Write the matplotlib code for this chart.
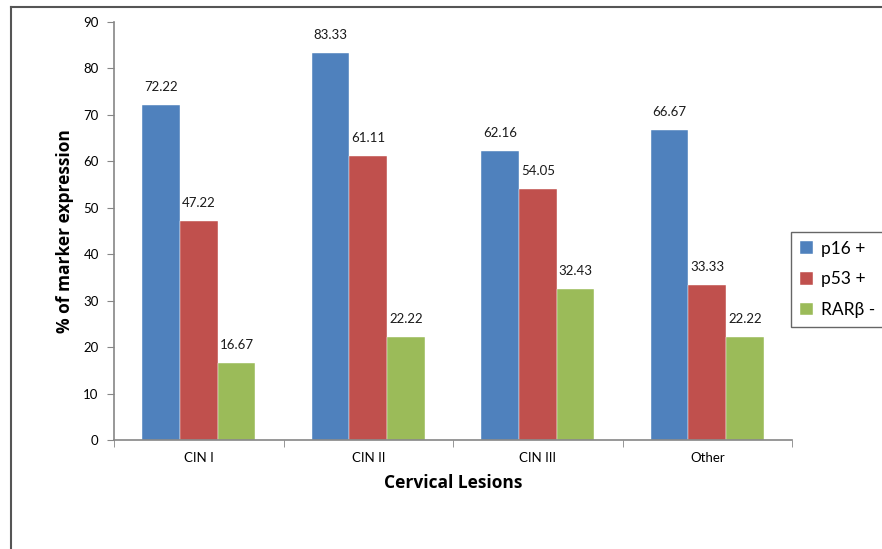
import numpy as np
import matplotlib.pyplot as plt
from matplotlib.lines import Line2D

plt.rcParams['font.family'] = ['Lato', 'DejaVu Sans']

# Marker expression (%) per lesion group
categories = ["CIN I", "CIN II", "CIN III", "Other"]
p16_pos = [72.22, 83.33, 62.16, 66.67]
p53_pos = [47.22, 61.11, 54.05, 33.33]
rarb_neg = [16.67, 22.22, 32.43, 22.22]
series_names = ["p16 +", "p53 +", "RARβ -"]
colors = ["#4F81BD", "#C0504D", "#9BBB59"]

W, H = 882, 549
fig = plt.figure(figsize=(W / 100, H / 100), dpi=100)
ax = fig.add_axes([114 / W, 1 - 440 / H, 678 / W, 418 / H])

x = np.arange(len(categories))
bw = 1 / 4.5
for i, (vals, name, c) in enumerate(zip([p16_pos, p53_pos, rarb_neg], series_names, colors)):
    pos = x + (i - 1) * bw
    ax.bar(pos, vals, width=bw, color=c, label=name, edgecolor="white", linewidth=0.3, zorder=2)
    for px, v in zip(pos, vals):
        ax.annotate(f"{v:.2f}", (px, v), xytext=(0, 13), textcoords="offset points",
                    ha="center", va="center", fontsize=9.5, color="#1a1a1a")

ax.set_xlim(-0.5, len(categories) - 0.5)
ax.set_ylim(0, 90)
ax.set_yticks(range(0, 91, 10))
ax.set_xticks(x)
ax.set_xticklabels(categories, fontsize=9.5)
ax.set_xticks(np.arange(-0.5, len(categories), 1), minor=True)
ax.tick_params(axis="x", which="major", length=0, pad=9)
ax.tick_params(axis="x", which="minor", length=5, color="#868686", direction="out")
ax.tick_params(axis="y", length=5, color="#868686", direction="out", labelsize=9.5, pad=6)

for side in ["top", "right"]:
    ax.spines[side].set_visible(False)
for side in ["left", "bottom"]:
    ax.spines[side].set_color("#868686")
    ax.spines[side].set_linewidth(1.2)

ax.set_ylabel("% of marker expression", fontsize=12.5, fontweight="bold",
              family=["Open Sans", "DejaVu Sans"], labelpad=7)
ax.set_xlabel("Cervical Lesions", fontsize=12.5, fontweight="bold",
              family=["Open Sans", "DejaVu Sans"], labelpad=7)

leg = fig.legend(loc="upper left", bbox_to_anchor=(791 / W, 1 - 232 / H), fontsize=12.5,
                 frameon=True, fancybox=False, handlelength=0.75, handleheight=0.75,
                 handletextpad=0.45, labelspacing=0.85, borderpad=0.5, borderaxespad=0)
leg.get_frame().set_edgecolor("#404040")
leg.get_frame().set_linewidth(1.0)

# outer chart border (left and top edges)
fig.add_artist(Line2D([11 / W, 11 / W], [0, 1 - 7 / H], color="#555555", lw=1.5))
fig.add_artist(Line2D([11 / W, 1], [1 - 7 / H, 1 - 7 / H], color="#555555", lw=1.5))

fig.savefig("out.png", dpi=100)
